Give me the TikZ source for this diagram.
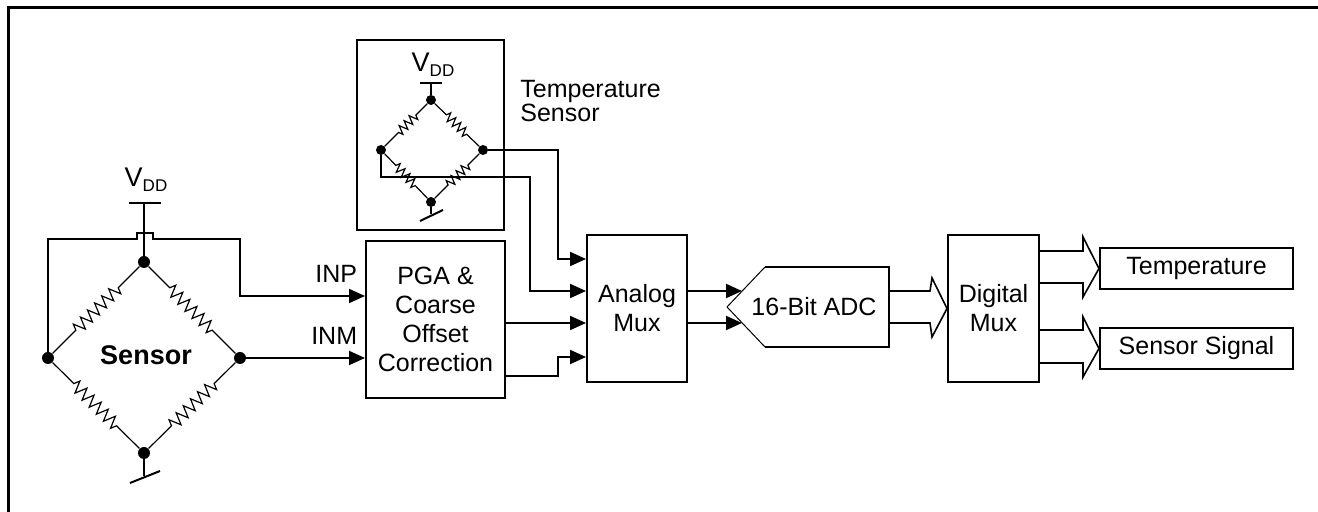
\documentclass[tikz,border=0pt]{standalone}
\usepackage{fontspec}
\setmainfont{Liberation Sans}
\usetikzlibrary{decorations.pathmorphing, arrows.meta}

\begin{document}
\begin{tikzpicture}[x=0.5pt, y=-0.5pt]
	\tikzstyle{jdot}=[circle, fill=black, inner sep=0pt, minimum size=6pt]
	\tikzstyle{tdot}=[circle, fill=black, inner sep=0pt, minimum size=5pt]
	\tikzstyle{res}=[line width=0.6pt, decorate, decoration={zigzag, amplitude=3pt, segment length=5pt, pre length=15pt, post length=15pt}]
	\tikzstyle{tres}=[line width=0.6pt, decorate, decoration={zigzag, amplitude=2.2pt, segment length=3.5pt, pre length=8pt, post length=8pt}]
	\tikzstyle{wire}=[line width=1pt]
	\tikzstyle{sig}=[line width=1pt, -{Triangle[length=8pt, width=7pt]}]
	\tikzstyle{bus}=[line width=0.8pt, line join=miter]
	\tikzstyle{txt}=[inner sep=0pt, font=\fontsize{12.5}{14.5}\selectfont]
	\tikzstyle{blk}=[draw, line width=1pt, inner sep=0pt, align=center, font=\fontsize{12.5}{14.5}\selectfont]
	\tikzstyle{vlbl}=[inner sep=0pt, font=\fontsize{13.5}{13.5}\selectfont]
	\useasboundingbox (0,0) rectangle (1318,512);
	\draw[line width=1.5pt] (8,512) -- (8,8) -- (1318,8);

	% sensor bridge
	\node (sT) at (144,262) [jdot]{};
	\node (sL) at (48,358) [jdot]{};
	\node (sR) at (240,358) [jdot]{};
	\node (sB) at (144,453) [jdot]{};
	\draw[res] (sT) -- (sL);
	\draw[res] (sT) -- (sR);
	\draw[res] (sL) -- (sB);
	\draw[res] (sR) -- (sB);
	\node (slbl) at (146,355) [inner sep=0pt, font=\bfseries\fontsize{13.5}{16}\selectfont]{Sensor};
	\coordinate (v1) at (144,203);
	\draw[wire] (sT) -- (v1);
	\draw[wire] (v1) ++(-15,0) -- ++(32,0);
	\node (vdd1) at (146,180) [vlbl]{V\raisebox{-0.35ex}{\fontsize{8.5}{8.5}\selectfont DD}};
	\coordinate (g1) at (144,476);
	\draw[wire] (sB) -- (g1);
	\draw[wire] (g1) ++(-14,7) -- ++(30,-12);

	% temperature sensor
	\node (tbox) at (430.5,135) [draw, line width=1pt, minimum width=73.5pt, minimum height=95pt]{};
	\node (tT) at (431,100) [tdot]{};
	\node (tL) at (381,150) [tdot]{};
	\node (tR) at (483,150) [tdot]{};
	\node (tB) at (431,202) [tdot]{};
	\draw[tres] (tT) -- (tL);
	\draw[tres] (tT) -- (tR);
	\draw[tres] (tL) -- (tB);
	\draw[tres] (tR) -- (tB);
	\coordinate (v2) at (431,83);
	\draw[wire] (tT) -- (v2);
	\draw[wire] (v2) ++(-11,0) -- ++(22,0);
	\node (vdd2) at (433,65) [vlbl]{V\raisebox{-0.35ex}{\fontsize{8.5}{8.5}\selectfont DD}};
	\coordinate (g2) at (431,214);
	\draw[wire] (tB) -- (g2);
	\draw[wire] (g2) ++(-11,7) -- ++(23,-11);
	\node (tlbl) at (520,101) [inner sep=0pt, anchor=west, align=left, font=\fontsize{12.5}{12}\selectfont]{Temperature\\Sensor};

	% blocks
	\node (pga) at (435.5,319.5) [blk, minimum width=69.5pt, minimum height=78.5pt]{PGA \&\\Coarse\\Offset\\Correction};
	\node (amux) at (637,308.5) [blk, minimum width=50pt, minimum height=73.5pt]{Analog\\Mux};
	\node (dmux) at (993.5,308.5) [blk, minimum width=45.5pt, minimum height=73.5pt]{Digital\\Mux};
	\node (otemp) at (1196.5,268.5) [blk, minimum width=96.5pt, minimum height=20.5pt]{Temperature};
	\node (osig) at (1196.5,348.5) [blk, minimum width=96.5pt, minimum height=20.5pt]{Sensor Signal};

	\coordinate (adcTL) at (765,267);
	\coordinate (adcTR) at (889,267);
	\coordinate (adcBR) at (889,347);
	\coordinate (adcBL) at (765,347);
	\coordinate (adcP) at (727,307);
	\draw[wire] (adcTL) -- (adcTR) -- (adcBR) -- (adcBL);
	\draw[line width=0.5pt] (adcBL) -- (adcP) -- (adcTL);
	\node (adc) at (814,307) [txt]{16-Bit ADC};
	\coordinate (adcI1) at (742,291);
	\coordinate (adcI2) at (742,323);

	% connections
	\draw[sig] (sL) |- (137,239) -- (137,233) -- (153,233) -- (153,239) -| (240,296) -- node[txt, above=6pt, pos=0.77]{INP} (pga.west |- 0,296);
	\draw[sig] (sR) -- node[txt, above=6pt, pos=0.74]{INM} (pga.west |- sR);
	\draw[sig] (tR) -| (558,259) -- (amux.west |- 0,259);
	\draw[sig] (tL) -- (381,177) -| (530,291) -- (amux.west |- 0,291);
	\draw[sig] (pga.east |- 0,323) -- (amux.west |- 0,323);
	\draw[sig] (pga.east |- 0,376) -- (558,376) |- (amux.west |- 0,357);
	\draw[sig] (amux.east |- adcI1) -- (adcI1);
	\draw[sig] (amux.east |- adcI2) -- (adcI2);

	\draw[bus] (adcTR |- 0,291) -- (930,291) -- (932,278) -- (dmux.west) -- (932,337) -- (930,323) -- (adcTR |- 0,323);
	\draw[bus] (dmux.east |- 0,251) -- (1083,251) -- (1083,237) -- (otemp.west) -- (1083,297) -- (1083,283) -- (dmux.east |- 0,283);
	\draw[bus] (dmux.east |- 0,330) -- (1083,330) -- (1083,317) -- (osig.west) -- (1083,377) -- (1083,363) -- (dmux.east |- 0,363);
\end{tikzpicture}
\end{document}
